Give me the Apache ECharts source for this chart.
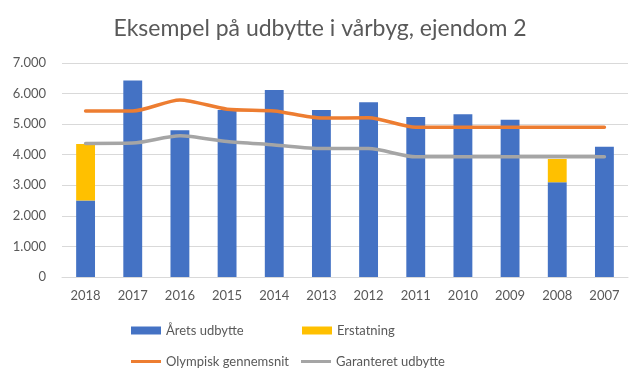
<!DOCTYPE html>
<html>
<head>
<meta charset="utf-8">
<script src="https://cdn.jsdelivr.net/npm/echarts@6/dist/echarts.min.js"></script>
<style>html,body{margin:0;padding:0;background:#fff;}#c{width:640px;height:384px;}</style>
</head>
<body>
<div id="c"></div>
<script>
const categories = ['2018','2017','2016','2015','2014','2013','2012','2011','2010','2009','2008','2007'];
const aretsUdbytte = [2500,6430,4800,5460,6120,5460,5720,5230,5320,5140,3100,4260];
const erstatning = [1850,0,0,0,0,0,0,0,0,0,760,0];
const olympisk = [5430,5430,5790,5490,5430,5200,5210,4900,4900,4900,4900,4900];
const garanteret = [4370,4380,4620,4430,4320,4200,4200,3930,3930,3930,3930,3930];
const yTicks = [0,1000,2000,3000,4000,5000,6000,7000];

const font = 'Lato';
const txt = '#595959';
const chart = echarts.init(document.getElementById('c'), null, {renderer:'canvas'});
function leg(name, left, top, isLine){
  return {
    data:[{name:name, icon:'rect'}],
    left:left, top:top, orient:'horizontal',
    itemWidth:30, itemHeight: isLine?3:8, itemGap:4,
    textStyle:{fontFamily:font, fontSize:13, color:txt},
    selectedMode:false, padding:0
  };
}
chart.setOption({
  animation:false,
  title:{text:'Eksempel på udbytte i vårbyg, ejendom 2', left:'center', top:12,
    textStyle:{fontFamily:font, fontSize:23, fontWeight:'normal', color:txt}},
  grid:{left:62, right:12, top:63, bottom:107, containLabel:false},
  legend:[
    leg('Årets udbytte',131,324,false),
    leg('Erstatning',302,324,false),
    leg('Olympisk gennemsnit',131,355,true),
    leg('Garanteret udbytte',301,355,true)
  ],
  xAxis:{type:'category', data:categories,
    axisLine:{lineStyle:{color:'#D9D9D9'}}, axisTick:{show:false},
    axisLabel:{fontFamily:font, fontSize:13, color:txt, margin:12}},
  yAxis:{type:'value', min:yTicks[0], max:yTicks[yTicks.length-1], interval:1000,
    axisLabel:{fontFamily:font, fontSize:13, color:txt, margin:16,
      formatter:v=>v===0?'0':(v/1000)+'.000'},
    splitLine:{lineStyle:{color:'#D9D9D9'}}, axisLine:{show:false}},
  series:[
    {name:'Årets udbytte', type:'bar', stack:'a', data:aretsUdbytte, barWidth:'40%', itemStyle:{color:'#4472C4'}},
    {name:'Erstatning', type:'bar', stack:'a', data:erstatning, itemStyle:{color:'#FFC000'}},
    {name:'Olympisk gennemsnit', type:'line', data:olympisk, smooth:0.25, showSymbol:false, symbol:'none',
      lineStyle:{color:'#ED7D31', width:3.5, cap:'round', join:'round'}, itemStyle:{color:'#ED7D31'}},
    {name:'Garanteret udbytte', type:'line', data:garanteret, smooth:0.25, showSymbol:false, symbol:'none',
      lineStyle:{color:'#A5A5A5', width:3.5, cap:'round', join:'round'}, itemStyle:{color:'#A5A5A5'}}
  ]
});
</script>
</body>
</html>
